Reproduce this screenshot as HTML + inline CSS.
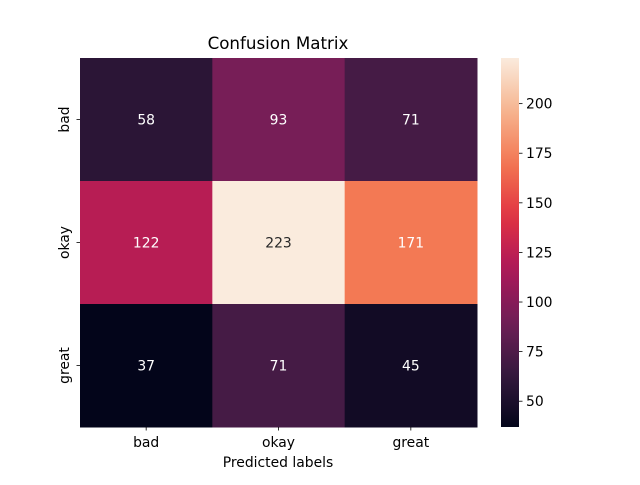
<!DOCTYPE html>
<html><head><meta charset="utf-8"><style>
body{margin:0;background:#fff;}
svg{font-family:"DejaVu Sans","Liberation Sans",sans-serif;}
</style></head><body>
<svg id="chart" width="640" height="480" viewBox="0 0 640 480">
<defs><linearGradient id="cbgrad" x1="0" y1="1" x2="0" y2="0"></linearGradient></defs>
<text x="278" y="49" font-size="16.7" text-anchor="middle" fill="#000">Confusion Matrix</text>
<g id="cells"></g>
<g id="axes"></g>
<g id="cbar"></g>
<text x="278" y="467" font-size="13.9" text-anchor="middle">Predicted labels</text>
</svg>
<script>
const xCategories=["bad","okay","great"];
const yCategories=["bad","okay","great"];
const row0=[58,93,71];
const row1=[122,223,171];
const row2=[37,71,45];
const cbTicks=[50,75,100,125,150,175,200];
const values=[row0,row1,row2];
const ns="http://www.w3.org/2000/svg";
const svg=document.getElementById('chart');
const stops=[[0,"#03051a"],[1/7,"#35193e"],[2/7,"#701f57"],[3/7,"#ad1759"],[4/7,"#e13342"],[5/7,"#f37651"],[6/7,"#f6b48f"],[1,"#faebdd"]];
function hex(h){return [1,3,5].map(i=>parseInt(h.substr(i,2),16));}
function cmap(t){t=Math.max(0,Math.min(1,t));for(let i=1;i<stops.length;i++){if(t<=stops[i][0]){const a=stops[i-1],b=stops[i];const f=(t-a[0])/(b[0]-a[0]);const ca=hex(a[1]),cb=hex(b[1]);return ca.map((c,k)=>Math.round(c+(cb[k]-c)*f));}}return hex(stops[7][1]);}
const all=values.flat();const vmin=Math.min(...all),vmax=Math.max(...all);
const X0=80,X1=477,Y0=58,Y1=427;
const cw=(X1-X0)/xCategories.length,ch=(Y1-Y0)/yCategories.length;
const xs=i=>X0+i*cw, ys=j=>Y0+j*ch;
function mk(tag,attrs,parent){const e=document.createElementNS(ns,tag);for(const k in attrs)e.setAttribute(k,attrs[k]);parent.appendChild(e);return e;}
const cells=document.getElementById('cells');
values.forEach((row,j)=>row.forEach((v,i)=>{
 const c=cmap((v-vmin)/(vmax-vmin));
 const r=mk('rect',{x:xs(i),y:ys(j),width:cw+0.5,height:ch+0.5,fill:`rgb(${c})`},cells);
 
 
 const lum=c.map(x=>{x/=255;return x<=0.03928?x/12.92:Math.pow((x+0.055)/1.055,2.4)});
 const L=0.2126*lum[0]+0.7152*lum[1]+0.0722*lum[2];
 const t=mk('text',{x:xs(i)+cw/2,y:ys(j)+ch/2+5,'font-size':13.9,'text-anchor':'middle',fill:L>0.408?'#262626':'#fff'},cells);
 t.textContent=v;
 
 
}));
const axes=document.getElementById('axes');
xCategories.forEach((c,i)=>{
 const x=xs(i)+cw/2;
 mk('line',{x1:x,x2:x,y1:Y1,y2:Y1+3.5,stroke:'#000','stroke-width':0.8},axes);
 const t=mk('text',{x:x,y:Y1+20,'font-size':13.9,'text-anchor':'middle'},axes);
 t.textContent=c;
 
 
});
yCategories.forEach((c,j)=>{
 const y=ys(j)+ch/2;
 mk('line',{x1:X0-3.5,x2:X0,y1:y,y2:y,stroke:'#000','stroke-width':0.8},axes);
 const t=mk('text',{x:0,y:0,'font-size':13.9,'text-anchor':'middle',transform:`translate(69,${y}) rotate(-90)`},axes);
 t.textContent=c;
 
 
});
// colorbar
const grad=document.getElementById('cbgrad');
for(let k=0;k<=20;k++){const c=cmap(k/20);mk('stop',{offset:k/20,'stop-color':`rgb(${c})`},grad);}
const cb=document.getElementById('cbar');
const CX=501,CW=18;
const cbr=mk('rect',{x:CX,y:Y0,width:CW,height:Y1-Y0,fill:'url(#cbgrad)'},cb);


const cy=v=>Y1-(v-vmin)/(vmax-vmin)*(Y1-Y0);
cbTicks.forEach(v=>{
 const y=cy(v);
 mk('line',{x1:CX+CW,x2:CX+CW+3.5,y1:y,y2:y,stroke:'#000','stroke-width':0.8},cb);
 const t=mk('text',{x:CX+CW+7,y:y+5,'font-size':13.9},cb);
 t.textContent=v;
 
 
});
</script>
</body></html>
